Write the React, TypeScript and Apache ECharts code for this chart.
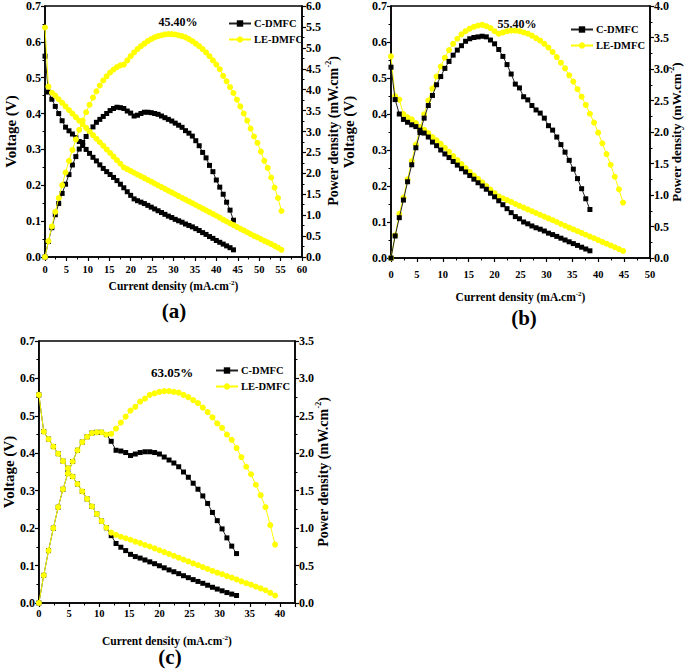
import React, { useEffect, useRef } from 'react';
import * as echarts from 'echarts';

// Shared current-density sampling (mA.cm-2); each series uses its first N values
const currentDensity = [
  0, 0.8, 1.6, 2.4, 3.2, 4, 4.8, 5.6, 6.4, 7.2, 8, 8.8, 9.6, 10.4, 11.2, 12, 12.8, 13.6, 14.4, 15.2,
  16, 16.8, 17.6, 18.4, 19.2, 20, 20.8, 21.6, 22.4, 23.2, 24, 24.8, 25.6, 26.4, 27.2, 28, 28.8, 29.6,
  30.4, 31.2, 32, 32.8, 33.6, 34.4, 35.2, 36, 36.8, 37.6, 38.4, 39.2, 40, 40.8, 41.6, 42.4, 43.2, 44,
  44.8, 45.6, 46.4, 47.2, 48, 48.8, 49.6, 50.4, 51.2, 52, 52.8, 53.6, 54.4, 55.2,
];

// Panel (a)
const voltageA_C = [
  0.56, 0.46, 0.44, 0.42, 0.4, 0.38, 0.362, 0.352, 0.343, 0.333, 0.322, 0.311, 0.3, 0.289, 0.278, 0.268,
  0.257, 0.247, 0.238, 0.23, 0.222, 0.213, 0.203, 0.193, 0.182, 0.172, 0.162, 0.157, 0.153, 0.149, 0.144,
  0.139, 0.134, 0.129, 0.124, 0.119, 0.114, 0.11, 0.105, 0.101, 0.097, 0.092, 0.088, 0.084, 0.079, 0.074,
  0.068, 0.063, 0.057, 0.052, 0.046, 0.041, 0.036, 0.031, 0.026, 0.02,
];
const powerA_C = [
  0, 0.37, 0.7, 1.01, 1.28, 1.52, 1.74, 1.97, 2.2, 2.4, 2.58, 2.74, 2.88, 3.01, 3.11, 3.22, 3.29, 3.36,
  3.43, 3.5, 3.55, 3.58, 3.57, 3.55, 3.49, 3.44, 3.37, 3.39, 3.43, 3.46, 3.46, 3.45, 3.43, 3.41, 3.37,
  3.33, 3.29, 3.25, 3.2, 3.15, 3.1, 3.02, 2.96, 2.89, 2.78, 2.66, 2.5, 2.37, 2.19, 2.04, 1.84, 1.67, 1.5,
  1.31, 1.12, 0.88,
];
const voltageA_LE = [
  0.64, 0.475, 0.458, 0.45, 0.44, 0.43, 0.42, 0.41, 0.4, 0.39, 0.38, 0.37, 0.36, 0.35, 0.34, 0.33, 0.32,
  0.31, 0.3, 0.29, 0.28, 0.27, 0.26, 0.25, 0.245, 0.24, 0.235, 0.23, 0.225, 0.22, 0.215, 0.21, 0.205, 0.2,
  0.195, 0.19, 0.185, 0.18, 0.175, 0.17, 0.165, 0.16, 0.155, 0.15, 0.145, 0.14, 0.135, 0.13, 0.125, 0.12,
  0.115, 0.11, 0.104, 0.099, 0.094, 0.089, 0.084, 0.079, 0.074, 0.069, 0.064, 0.059, 0.055, 0.05, 0.045,
  0.041, 0.036, 0.031, 0.026, 0.02,
];
const powerA_LE = [
  0, 0.38, 0.73, 1.08, 1.41, 1.72, 2.02, 2.3, 2.56, 2.81, 3.04, 3.26, 3.46, 3.64, 3.81, 3.96, 4.1, 4.22,
  4.32, 4.41, 4.48, 4.54, 4.58, 4.6, 4.7, 4.8, 4.89, 4.97, 5.04, 5.1, 5.16, 5.21, 5.25, 5.28, 5.3, 5.32,
  5.33, 5.33, 5.32, 5.3, 5.28, 5.25, 5.21, 5.16, 5.1, 5.04, 4.97, 4.89, 4.8, 4.7, 4.6, 4.49, 4.33, 4.2,
  4.06, 3.92, 3.76, 3.6, 3.43, 3.26, 3.07, 2.88, 2.73, 2.52, 2.3, 2.13, 1.9, 1.66, 1.41, 1.1,
];

// Panel (b)
const voltageB_C = [
  0.53, 0.44, 0.4, 0.385, 0.377, 0.37, 0.365, 0.355, 0.347, 0.336, 0.322, 0.312, 0.3, 0.289, 0.279, 0.268,
  0.258, 0.248, 0.239, 0.229, 0.219, 0.209, 0.2, 0.191, 0.18, 0.17, 0.159, 0.148, 0.137, 0.126, 0.115,
  0.109, 0.1, 0.095, 0.089, 0.084, 0.08, 0.075, 0.069, 0.065, 0.06, 0.055, 0.05, 0.045, 0.04, 0.035, 0.03,
  0.025, 0.02,
];
const powerB_C = [
  0, 0.35, 0.64, 0.92, 1.21, 1.48, 1.75, 1.99, 2.22, 2.42, 2.58, 2.75, 2.88, 3.01, 3.12, 3.22, 3.3, 3.37,
  3.44, 3.48, 3.5, 3.51, 3.52, 3.51, 3.46, 3.4, 3.31, 3.2, 3.07, 2.92, 2.76, 2.7, 2.56, 2.51, 2.42, 2.35,
  2.3, 2.22, 2.1, 2.03, 1.92, 1.8, 1.68, 1.55, 1.41, 1.26, 1.1, 0.94, 0.77,
];
const voltageB_LE = [
  0.56, 0.45, 0.44, 0.4, 0.391, 0.385, 0.375, 0.364, 0.356, 0.347, 0.336, 0.327, 0.317, 0.306, 0.295,
  0.283, 0.272, 0.261, 0.25, 0.239, 0.229, 0.22, 0.21, 0.2, 0.19, 0.18, 0.171, 0.166, 0.161, 0.156, 0.15,
  0.145, 0.14, 0.135, 0.13, 0.125, 0.12, 0.115, 0.11, 0.105, 0.1, 0.0945, 0.0896, 0.0843, 0.0795, 0.0744,
  0.0696, 0.0646, 0.0596, 0.0548, 0.0498, 0.0446, 0.0397, 0.0349, 0.0299, 0.0248, 0.0196,
];
const powerB_LE = [
  0, 0.36, 0.7, 0.96, 1.25, 1.54, 1.8, 2.04, 2.28, 2.5, 2.69, 2.88, 3.04, 3.18, 3.3, 3.4, 3.48, 3.55, 3.6,
  3.64, 3.67, 3.69, 3.7, 3.68, 3.65, 3.6, 3.56, 3.58, 3.6, 3.61, 3.61, 3.6, 3.58, 3.56, 3.53, 3.49, 3.45,
  3.4, 3.34, 3.27, 3.19, 3.1, 3.01, 2.9, 2.8, 2.68, 2.56, 2.43, 2.29, 2.15, 1.99, 1.82, 1.65, 1.48, 1.29,
  1.09, 0.88,
];

// Panel (c)
const voltageC_C = [
  0.556, 0.458, 0.438, 0.418, 0.399, 0.379, 0.36, 0.338, 0.318, 0.298, 0.278, 0.258, 0.238, 0.219, 0.201,
  0.18, 0.159, 0.149, 0.14, 0.13, 0.124, 0.12, 0.115, 0.11, 0.105, 0.0995, 0.094, 0.0884, 0.0835, 0.0784,
  0.0729, 0.0677, 0.0625, 0.0576, 0.0526, 0.0475, 0.042, 0.0372, 0.0326, 0.0279, 0.0238, 0.0201,
];
const powerC_C = [
  0, 0.37, 0.7, 1.0, 1.28, 1.52, 1.73, 1.89, 2.04, 2.15, 2.22, 2.27, 2.28, 2.28, 2.25, 2.16, 2.04, 2.03,
  2.01, 1.97, 1.99, 2.01, 2.02, 2.02, 2.01, 1.99, 1.95, 1.91, 1.87, 1.82, 1.75, 1.68, 1.6, 1.52, 1.43, 1.33,
  1.21, 1.1, 0.99, 0.87, 0.76, 0.66,
];
const voltageC_LE = [
  0.556, 0.458, 0.438, 0.418, 0.399, 0.379, 0.36, 0.338, 0.318, 0.298, 0.278, 0.258, 0.238, 0.219, 0.201,
  0.188, 0.182, 0.177, 0.173, 0.169, 0.164, 0.16, 0.155, 0.151, 0.146, 0.141, 0.136, 0.131, 0.126, 0.121,
  0.116, 0.111, 0.106, 0.101, 0.096, 0.091, 0.086, 0.081, 0.077, 0.072, 0.068, 0.063, 0.058, 0.053, 0.049,
  0.044, 0.039, 0.034, 0.027, 0.02,
];
const powerC_LE = [
  0, 0.37, 0.7, 1.0, 1.28, 1.52, 1.73, 1.89, 2.04, 2.15, 2.22, 2.27, 2.28, 2.28, 2.25, 2.26, 2.33, 2.41,
  2.49, 2.57, 2.62, 2.69, 2.73, 2.78, 2.8, 2.82, 2.83, 2.83, 2.82, 2.81, 2.78, 2.75, 2.71, 2.67, 2.61, 2.55,
  2.48, 2.4, 2.34, 2.25, 2.18, 2.07, 1.95, 1.82, 1.72, 1.58, 1.44, 1.28, 1.04, 0.78,
];

const seriesNames = ['C-DMFC', 'LE-DMFC'];
const efficiencyLabels = ['45.40%', '55.40%', '63.05%'];
const panelLetters = ['(a)', '(b)', '(c)'];
const xMaxes = [60, 50, 42.5];
const powerMaxes = [6, 4, 3.5];
const powerTitleParts = ['Power density (mW.cm', '-2', ')'];

const serif = '"Liberation Serif", "Times New Roman", serif';
const YELLOW = '#ffff00';

const pairs = (vals: number[]) => vals.map((v, i) => [currentDensity[i], v]);

const layouts = [
  { grid: { left: 45, top: 5, width: 257, height: 252 }, xLabelMargin: 7, xNameGap: 22, lGap: 27,
    rTitle: [333, 131], rSize: 14, legend: { left: 228, top: 18 }, eff: [178, 22], letter: [174, 311], lcOnTop: true },
  { grid: { left: 391, top: 6, width: 259, height: 252 }, xLabelMargin: 11, xNameGap: 32, lGap: 35,
    rTitle: [676, 132], rSize: 13, legend: { left: 570, top: 24 }, eff: [517, 24], letter: [524, 318], lcOnTop: false },
  { grid: { left: 36, top: 341, width: 259, height: 262 }, xLabelMargin: 5, xNameGap: 31, lGap: 21,
    rTitle: [323, 472], rSize: 14, legend: { left: 215, top: 365 }, eff: [172, 372], letter: [170, 657], lcOnTop: true },
];

const panelData = [
  { vC: voltageA_C, pC: powerA_C, vL: voltageA_LE, pL: powerA_LE },
  { vC: voltageB_C, pC: powerB_C, vL: voltageB_LE, pL: powerB_LE },
  { vC: voltageC_C, pC: powerC_C, vL: voltageC_LE, pL: powerC_LE },
];

const boldText = { fontFamily: serif, fontWeight: 'bold' as const, color: '#000' };

function measure(text: string, size: number) {
  const c = document.createElement('canvas').getContext('2d');
  if (!c) return text.length * size * 0.5;
  c.font = `bold ${size}px ${serif}`;
  return c.measureText(text).width;
}

function axisCommon() {
  return {
    type: 'value' as const,
    min: 0,
    splitLine: { show: false },
    axisLine: { show: true, onZero: false, lineStyle: { color: '#000', width: 1.5 } },
    axisTick: { show: true, length: 4, lineStyle: { color: '#000', width: 1.2 } },
    minorTick: { show: true, splitNumber: 2, length: 2.5, lineStyle: { color: '#000', width: 1 } },
  };
}

function supName(size: number) {
  return {
    ...boldText,
    fontSize: size,
    lineHeight: size + 3,
    rich: {
      sup: { ...boldText, fontSize: 7, lineHeight: 7, verticalAlign: 'top' as const },
    },
  };
}

function powerTitle(cx: number, cy: number, mainSize: number) {
  const supSize = 8;
  const w0 = measure(powerTitleParts[0], mainSize);
  const w1 = measure(powerTitleParts[1], supSize);
  const w2 = measure(powerTitleParts[2], mainSize);
  const start = -(w0 + w1 + w2) / 2;
  const base = { fontWeight: 'bold', fontFamily: serif, fill: '#000', align: 'left', verticalAlign: 'middle' };
  return {
    type: 'group',
    x: cx,
    y: cy,
    rotation: Math.PI / 2,
    children: [
      { type: 'text', x: start, y: 0, style: { ...base, text: powerTitleParts[0], fontSize: mainSize } },
      { type: 'text', x: start + w0, y: -5, style: { ...base, text: powerTitleParts[1], fontSize: supSize } },
      { type: 'text', x: start + w0 + w1, y: 0, style: { ...base, text: powerTitleParts[2], fontSize: mainSize } },
    ],
  };
}

function buildOption() {
  const grid: any[] = [];
  const xAxis: any[] = [];
  const yAxis: any[] = [];
  const series: any[] = [];
  const legend: any[] = [];
  const graphic: any[] = [];

  layouts.forEach((L, p) => {
    grid.push({ ...L.grid, show: true, borderColor: '#000', borderWidth: 1.5, backgroundColor: 'transparent' });
    xAxis.push({
      ...axisCommon(),
      gridIndex: p,
      max: xMaxes[p],
      interval: 5,
      axisLabel: {
        ...boldText, fontSize: 10.5, margin: L.xLabelMargin,
        formatter: (v: number) => (Math.abs(v % 5) < 1e-6 ? String(Math.round(v)) : ''),
      },
      name: 'Current density (mA.cm{sup|-2})',
      nameLocation: 'middle',
      nameGap: L.xNameGap,
      nameTextStyle: supName(11.5),
    });
    yAxis.push({
      ...axisCommon(),
      gridIndex: p,
      position: 'left',
      max: 0.7,
      interval: 0.1,
      axisLabel: { ...boldText, fontSize: 12, margin: 4, formatter: (v: number) => v.toFixed(1) },
      name: 'Voltage (V)',
      nameLocation: 'middle',
      nameRotate: 90,
      nameGap: L.lGap,
      nameTextStyle: { ...boldText, fontSize: 15 },
    });
    yAxis.push({
      ...axisCommon(),
      gridIndex: p,
      position: 'right',
      max: powerMaxes[p],
      interval: 0.5,
      axisLabel: { ...boldText, fontSize: 12, margin: 4, formatter: (v: number) => v.toFixed(1) },
    });

    const D = panelData[p];
    const cStyle = {
      type: 'line', name: seriesNames[0], xAxisIndex: p, symbol: 'rect', symbolSize: 5,
      itemStyle: { color: '#000' }, lineStyle: { color: '#222', width: 1 }, z: L.lcOnTop ? 2 : 4,
    };
    const lStyle = {
      type: 'line', name: seriesNames[1], xAxisIndex: p, symbol: 'circle', symbolSize: 6,
      itemStyle: { color: YELLOW }, lineStyle: { color: YELLOW, width: 1 }, z: L.lcOnTop ? 4 : 2,
    };
    series.push({ ...cStyle, yAxisIndex: 2 * p, data: pairs(D.vC) });
    series.push({ ...cStyle, yAxisIndex: 2 * p + 1, data: pairs(D.pC) });
    series.push({ ...lStyle, yAxisIndex: 2 * p, data: pairs(D.vL) });
    series.push({ ...lStyle, yAxisIndex: 2 * p + 1, data: pairs(D.pL) });

    legend.push({
      data: seriesNames,
      left: L.legend.left,
      top: L.legend.top,
      orient: 'vertical',
      itemWidth: 22,
      itemHeight: 8,
      itemGap: 5,
      padding: 0,
      selectedMode: false,
      textStyle: { ...boldText, fontSize: 10.5, padding: [0, 0, 0, -2] },
    });

    graphic.push(powerTitle(L.rTitle[0], L.rTitle[1], L.rSize));
    graphic.push({
      type: 'text', x: L.eff[0], y: L.eff[1],
      style: { text: efficiencyLabels[p], align: 'center', verticalAlign: 'middle', fontSize: p === 2 ? 13 : 12, fontWeight: 'bold', fontFamily: serif, fill: '#000' },
    });
    graphic.push({
      type: 'text', x: L.letter[0], y: L.letter[1],
      style: { text: panelLetters[p], align: 'center', verticalAlign: 'middle', fontSize: 21, fontWeight: 'bold', fontFamily: serif, fill: '#000' },
    });
  });

  return { animation: false, backgroundColor: '#fff', grid, xAxis, yAxis, series, legend, graphic };
}

export default function App() {
  const ref = useRef<HTMLDivElement>(null);
  useEffect(() => {
    if (!ref.current) return;
    const chart = echarts.init(ref.current, null, { renderer: 'svg' });
    chart.setOption(buildOption() as any);
    return () => chart.dispose();
  }, []);
  return (
    <div
      ref={ref}
      style={{ position: 'absolute', left: 0, top: 0, width: 685, height: 669, background: '#fff' }}
    />
  );
}
